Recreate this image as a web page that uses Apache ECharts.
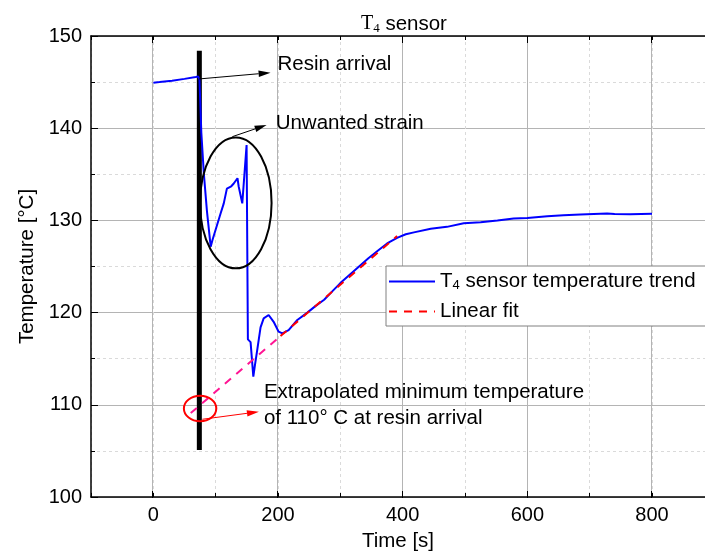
<!DOCTYPE html>
<html><head><meta charset="utf-8">
<script src="https://cdn.jsdelivr.net/npm/echarts@6/dist/echarts.min.js"></script>
<style>html,body{margin:0;padding:0;background:#fff}#c{width:705px;height:557px}</style>
</head><body><div id="c"></div>
<script>
// ---- data ----
const timeS = [0,10,30,50,68,72,74,77,81,86,92,95,108,113,118,121,125,129,135,137,142.7,145.3,149.6,151.7,156,160.4,163,167,172,177,185,193,201,207,217,231,247,260,274,287,300,315,330,345,360,375,391,405,418,445,471,498,525,552,578,600,632,658,685,728,740,765,800];
const tempC = [144.93,145.0,145.15,145.35,145.55,145.6,145.3,139.5,135.1,131.0,127.15,127.9,130.77,131.85,133.45,133.5,133.7,134.0,134.57,133.65,131.85,132.0,138.18,117.1,116.8,113.05,114.3,116.1,118.4,119.38,119.74,119.0,117.93,117.75,118.1,119.2,120.0,120.7,121.4,122.3,123.2,124.1,125.0,125.9,126.7,127.5,128.1,128.5,128.7,129.1,129.3,129.7,129.8,130.0,130.2,130.26,130.45,130.55,130.65,130.75,130.7,130.68,130.72];
const fitExtrapT = [60, 204];
const fitExtrapV = [109.1, 117.45];
const fitT = [204, 391];
const fitV = [117.45, 128.3];
const resinArrivalT = [73.8, 73.8];
const resinArrivalV = [148.4, 105.1];
const xTickLabels = [0, 200, 400, 600, 800];

const zip = (a, b) => a.map((v, i) => [v, b[i]]);
const FONT = '"Liberation Sans", Arial, sans-serif';
const SERIF = '"Liberation Serif", "Times New Roman", serif';
const chart = echarts.init(document.getElementById('c'));

const option = {
  animation: false,
  textStyle: {fontFamily: FONT},
  title: {
    text: '{t|T}{s|4}{n| sensor}', left: 356, top: 8,
    textStyle: {fontWeight: 'normal', rich: {
      t: {fontFamily: SERIF, fontSize: 20, color: '#000', fontWeight: 'normal'},
      s: {fontFamily: SERIF, fontSize: 13, color: '#000', fontWeight: 'normal', padding: [9, 0, 0, 0]},
      n: {fontFamily: FONT, fontSize: 20.5, color: '#000', fontWeight: 'normal'}
    }}
  },
  legend: {
    orient: 'vertical', left: 386, top: 266,
    itemWidth: 46, itemHeight: 14, itemGap: 9,
    padding: [5, 14, 4, 2],
    borderColor: '#808080', borderWidth: 1, backgroundColor: '#fff',
    itemStyle: {opacity: 0},
    data: ['T4 sensor temperature trend', 'Linear fit'],
    formatter: n => n === 'Linear fit' ? '{n|Linear fit}' : '{n|T}{s|4}{n| sensor temperature trend}',
    textStyle: {color: '#000', fontSize: 20.5, rich: {
      n: {fontFamily: FONT, fontSize: 20.5, color: '#000'},
      s: {fontFamily: FONT, fontSize: 13, color: '#000', padding: [8, 0, 0, 0]}
    }}
  },
  grid: [
    {left: 91, right: 0, top: 36, bottom: 59, show: false},
    {left: 152.7, right: 53.3, top: 36, bottom: 59, show: false}
  ],
  xAxis: [
    {gridIndex: 0, type: 'value', min: -100, max: 885, interval: 100, position: 'bottom',
     axisLine: {onZero: false, lineStyle: {color: '#000', width: 1.5}},
     axisTick: {inside: true, length: 4, lineStyle: {color: '#000'}},
     axisLabel: {fontSize: 20, color: '#000', margin: 8, fontFamily: FONT, showMaxLabel: false,
                 formatter: v => xTickLabels.indexOf(v) >= 0 ? String(v) : ''},
     splitLine: {show: true, lineStyle: {color: '#dadada', type: [3, 3], width: 1}},
     name: 'Time [s]', nameLocation: 'middle', nameGap: 34,
     nameTextStyle: {fontSize: 20.5, color: '#000', fontFamily: FONT}},
    {gridIndex: 0, type: 'value', min: -100, max: 885, interval: 100, position: 'top',
     axisLine: {onZero: false, lineStyle: {color: '#000', width: 1.5}},
     axisTick: {inside: true, length: 4, lineStyle: {color: '#000'}},
     axisLabel: {show: false}, splitLine: {show: false}},
    {gridIndex: 1, type: 'value', min: 0, max: 800, interval: 200, position: 'bottom',
     axisLine: {show: false, onZero: false},
     axisTick: {show: true, inside: true, length: 7, lineStyle: {color: '#000'}},
     axisLabel: {show: false},
     splitLine: {show: true, lineStyle: {color: '#b4b4b4', width: 1}}},
    {gridIndex: 1, type: 'value', min: 0, max: 800, interval: 200, position: 'top',
     axisLine: {show: false, onZero: false},
     axisTick: {show: true, inside: true, length: 7, lineStyle: {color: '#000'}},
     axisLabel: {show: false}, splitLine: {show: false}}
  ],
  yAxis: [
    {gridIndex: 0, type: 'value', min: 100, max: 150, interval: 10,
     axisLine: {show: true, onZero: false, lineStyle: {color: '#000', width: 1.5}},
     axisTick: {inside: true, length: 7, lineStyle: {color: '#000'}},
     minorTick: {show: true, splitNumber: 2, length: 4, lineStyle: {color: '#000'}},
     splitLine: {show: true, lineStyle: {color: '#b4b4b4', width: 1}},
     minorSplitLine: {show: true, lineStyle: {color: '#dadada', type: [3, 3], width: 1}},
     axisLabel: {fontSize: 20, color: '#000', margin: 9, fontFamily: FONT},
     name: 'Temperature [°C]', nameLocation: 'middle', nameGap: 53,
     nameTextStyle: {fontSize: 20.5, color: '#000', fontFamily: FONT}},
    {gridIndex: 1, type: 'value', min: 100, max: 150, show: false}
  ],
  series: [
    {name: 'resin', type: 'line', xAxisIndex: 0, yAxisIndex: 0, data: zip(resinArrivalT, resinArrivalV),
     symbol: 'none', lineStyle: {color: '#000', width: 5}, z: 1, silent: true},
    {name: 'T4 sensor temperature trend', type: 'line', xAxisIndex: 0, yAxisIndex: 0,
     data: zip(timeS, tempC), symbol: 'none', color: '#0000ff',
     lineStyle: {color: '#0000ff', width: 2}, z: 3},
    {name: 'extrap', type: 'line', xAxisIndex: 0, yAxisIndex: 0, data: zip(fitExtrapT, fitExtrapV),
     symbol: 'none', lineStyle: {color: '#ff1493', width: 2, type: [8, 7]}, z: 4},
    {name: 'Linear fit', type: 'line', xAxisIndex: 0, yAxisIndex: 0, data: zip(fitT, fitV),
     symbol: 'none', color: '#ff0000', lineStyle: {color: '#ff0000', width: 2, type: [8, 7]}, z: 4}
  ]
};
chart.setOption(option);

// ---- annotations (positions in data coordinates, converted by the chart's scales) ----
const P = (t, v) => chart.convertToPixel({gridIndex: 0}, [t, v]);
function arrow(from, to, color) {
  const a = P(from[0], from[1]), b = P(to[0], to[1]);
  const dx = b[0] - a[0], dy = b[1] - a[1], L = Math.hypot(dx, dy);
  const ux = dx / L, uy = dy / L, len = 12, hw = 3.2;
  const bx = b[0] - ux * len, by = b[1] - uy * len;
  return [
    {type: 'line', z: 50, shape: {x1: a[0], y1: a[1], x2: bx, y2: by}, style: {stroke: color, lineWidth: 1}},
    {type: 'polygon', z: 50, shape: {points: [[b[0], b[1]], [bx - uy * hw, by + ux * hw], [bx + uy * hw, by - ux * hw]]}, style: {fill: color}}
  ];
}
function ellipse(c, d, color, w) {
  const p = P(c[0], c[1]), q = P(c[0] + d[0], c[1] + d[1]);
  return {type: 'ellipse', z: 50, shape: {cx: p[0], cy: p[1], rx: Math.abs(q[0] - p[0]), ry: Math.abs(q[1] - p[1])},
          style: {fill: 'none', stroke: color, lineWidth: w}};
}
function text(t, v, str, extra) {
  const p = P(t, v);
  return {type: 'text', z: 50, x: p[0], y: p[1],
          style: Object.assign({text: str, fill: '#000', font: '20.5px ' + FONT, verticalAlign: 'middle', align: 'left'}, extra || {})};
}
const g = [].concat(
  arrow([73.1, 145.34], [188.1, 146.02], '#000'),
  arrow([126.7, 139.08], [181.7, 140.35], '#000'),
  arrow([78.6, 108.43], [169.4, 109.25], '#ff0000'),
  [ellipse([132.3, 131.9], [57.4, 7.1], '#000', 2),
   ellipse([75, 109.6], [26, 1.38], '#ff0000', 2),
   text(199.1, 146.96, 'Resin arrival'),
   text(196.2, 140.51, 'Unwanted strain'),
   text(177.4, 109.9, 'Extrapolated minimum temperature\nof 110° C at resin arrival', {lineHeight: 26})]
);
chart.setOption({graphic: g});
</script></body></html>
